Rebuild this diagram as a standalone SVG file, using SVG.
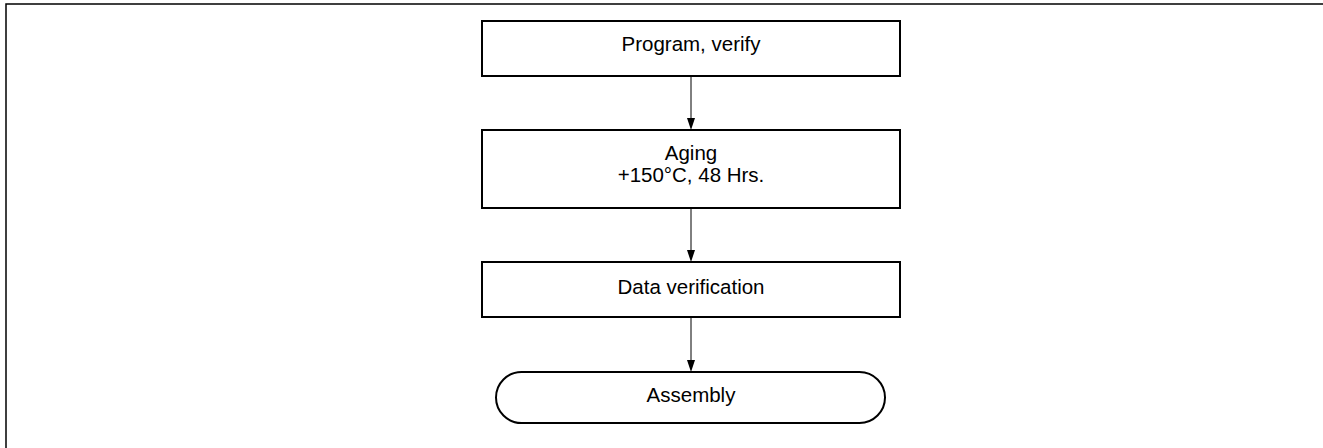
<svg xmlns="http://www.w3.org/2000/svg" width="1323" height="448" viewBox="0 0 1323 448">
<style>
.box{fill:#fff;stroke:#000;stroke-width:2}
.t{font-family:"Liberation Sans",Arial,sans-serif;font-size:20.5px;fill:#000;text-anchor:middle}
.c{stroke:#000;stroke-width:1;fill:none}
</style>
<rect width="1323" height="448" fill="#fff"/>
<path d="M6,448 V4 H1323" fill="none" stroke="#000" stroke-width="1.5"/>
<g id="connectors">
<path class="c" d="M691,76 V118"/><path d="M687,118 L695,118 L691,130 Z"/>
<path class="c" d="M691,208 V250"/><path d="M687,250 L695,250 L691,262 Z"/>
<path class="c" d="M691,317 V360"/><path d="M687,360 L695,360 L691,372 Z"/>
</g>
<g id="n1"><rect class="box" x="482" y="21" width="418" height="55"/><text class="t" x="691" y="50.5">Program, verify</text></g>
<g id="n2"><rect class="box" x="482" y="130" width="418" height="78"/><text class="t" x="691" y="160">Aging</text><text class="t" x="691" y="182">+150°C, 48 Hrs.</text></g>
<g id="n3"><rect class="box" x="482" y="262" width="418" height="55"/><text class="t" x="691" y="293.5">Data verification</text></g>
<g id="n4"><rect class="box" x="496" y="372" width="389" height="51" rx="25.5" ry="25.5"/><text class="t" x="691" y="401.5">Assembly</text></g>
</svg>
